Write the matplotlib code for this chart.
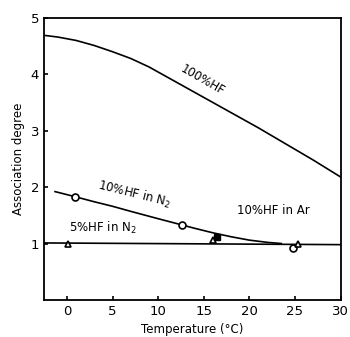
import matplotlib.pyplot as plt

# 100% HF curve
x_100 = [-2.5, -1, 1, 3, 5, 7, 9, 11, 13, 15, 17, 19, 21, 23, 25, 27, 29, 30]
y_100 = [4.69, 4.66, 4.60, 4.51, 4.40, 4.28, 4.13, 3.95, 3.77, 3.59, 3.41,
         3.23, 3.05, 2.86, 2.67, 2.48, 2.28, 2.18]

# 10% HF in N2 curve
x_n2 = [-1.3, 0.9, 3, 5, 7, 10, 12.6, 14, 16, 18, 20, 22, 23.5]
y_n2 = [1.92, 1.83, 1.74, 1.66, 1.57, 1.44, 1.33, 1.27, 1.19, 1.12, 1.06, 1.02, 1.0]

# flat line ~1
x_flat = [-2.5, 30]
y_flat = [1.01, 0.98]

# markers
circ_x = [0.9, 12.6, 24.8]
circ_y = [1.83, 1.33, 0.92]
tri_x = [0.1, 16.0, 25.3]
tri_y = [1.0, 1.06, 1.0]
sq_x = [16.5]
sq_y = [1.12]

fig = plt.figure(figsize=(3.5, 3.37), dpi=100)
ax = fig.add_axes([0.126, 0.110, 0.847, 0.837])

lw = 1.2
ax.plot(x_100, y_100, color='black', lw=lw)
ax.plot(x_n2, y_n2, color='black', lw=lw)
ax.plot(x_flat, y_flat, color='black', lw=lw)
ax.plot(circ_x, circ_y, 'o', ms=5, mfc='white', mec='black', mew=1.2)
ax.plot(tri_x, tri_y, '^', ms=5, mfc='white', mec='black', mew=1.2)
ax.plot(sq_x, sq_y, 's', ms=4, color='black')

ax.text(14.9, 3.89, '100%HF', rotation=-30, ha='center', va='center', fontsize=8.5)
ax.text(7.4, 1.88, '10%HF in N$_2$', rotation=-14, ha='center', va='center', fontsize=8.5)
ax.text(22.6, 1.59, '10%HF in Ar', ha='center', va='center', fontsize=8.5)
ax.text(3.9, 1.27, '5%HF in N$_2$', ha='center', va='center', fontsize=8.5)

ax.set_xlim(-2.5, 30)
ax.set_ylim(0, 5)
ax.set_xticks([0, 5, 10, 15, 20, 25, 30])
ax.set_yticks([1, 2, 3, 4, 5])
ax.tick_params(direction='in', labelsize=9.5, length=3, width=1.2)
for s in ax.spines.values():
    s.set_linewidth(1.3)

ax.set_xlabel('Temperature (°C)', fontsize=8.5)
ax.set_ylabel('Association degree', fontsize=8.5)

fig.savefig('out.png', dpi=100)
